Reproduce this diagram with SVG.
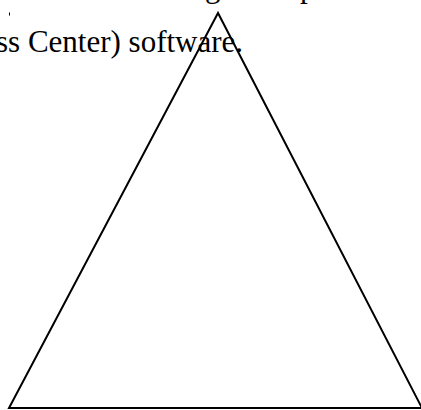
<svg xmlns="http://www.w3.org/2000/svg" width="421" height="410" viewBox="0 0 421 410">
<style>
.t{font-family:"Liberation Serif","Times New Roman",serif;font-size:31px;fill:#000}
.shape{fill:none;stroke:#000;stroke-width:2;stroke-linejoin:miter}
</style>
<rect width="421" height="410" fill="#fff"/>
<g id="text">
<text class="t" x="205" y="-3">g</text>
<text class="t" x="300" y="-3">p</text>
<line x1="9.5" y1="12.5" x2="9.5" y2="15.5" stroke="#000" stroke-width="1"/>
<text class="t" x="-4" y="52">ss Center) software.</text>
</g>
<g id="triangle">
<polygon class="shape" points="218,13 9,408 422,408"/>
</g>
</svg>
